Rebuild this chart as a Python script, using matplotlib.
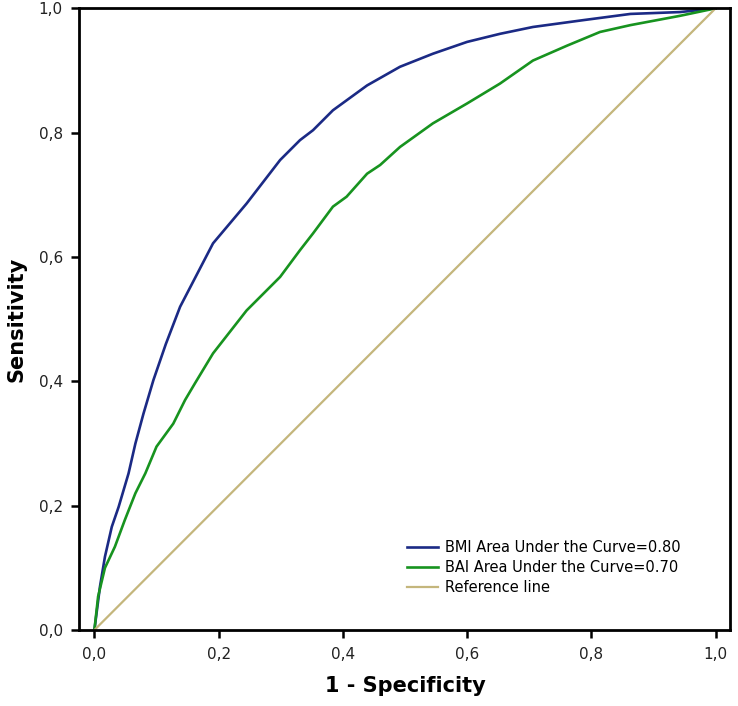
import matplotlib
matplotlib.use("Agg")
import matplotlib.pyplot as plt

# ROC points (1 - specificity, sensitivity)
bmi_fpr = [0.0, 0.009, 0.017, 0.028, 0.039, 0.055, 0.066, 0.079, 0.095, 0.115, 0.138,
           0.191, 0.245, 0.299, 0.331, 0.352, 0.384, 0.439, 0.492, 0.545, 0.600,
           0.653, 0.706, 0.787, 0.863, 0.943, 1.0]
bmi_tpr = [0.0, 0.070, 0.118, 0.166, 0.198, 0.252, 0.300, 0.348, 0.402, 0.460, 0.520,
           0.622, 0.686, 0.756, 0.788, 0.804, 0.836, 0.876, 0.906, 0.927, 0.946,
           0.959, 0.970, 0.981, 0.991, 0.994, 1.0]

bai_fpr = [0.0, 0.006, 0.017, 0.033, 0.049, 0.066, 0.082, 0.100, 0.127, 0.146, 0.162,
           0.191, 0.245, 0.299, 0.331, 0.352, 0.384, 0.406, 0.439, 0.460, 0.492,
           0.545, 0.600, 0.653, 0.706, 0.761, 0.814, 0.863, 0.943, 1.0]
bai_tpr = [0.0, 0.054, 0.100, 0.134, 0.177, 0.220, 0.252, 0.295, 0.332, 0.370, 0.397,
           0.445, 0.514, 0.568, 0.611, 0.638, 0.681, 0.697, 0.734, 0.748, 0.777,
           0.815, 0.847, 0.879, 0.916, 0.940, 0.962, 0.973, 0.988, 1.0]

ref_x = [0.0, 1.0]
ref_y = [0.0, 1.0]

labels = ("BMI Area Under the Curve=0.80", "BAI Area Under the Curve=0.70", "Reference line")
colors = ("#1b2a85", "#17931f", "#c4b67c")
ticks = [0.0, 0.2, 0.4, 0.6, 0.8, 1.0]
tick_labels = ["0,0", "0,2", "0,4", "0,6", "0,8", "1,0"]

fig = plt.figure(figsize=(7.38, 7.06), dpi=100)
ax = fig.add_axes([0.1077, 0.1076, 0.8821, 0.8806])

ax.plot(bmi_fpr, bmi_tpr, color=colors[0], lw=1.9, label=labels[0])
ax.plot(bai_fpr, bai_tpr, color=colors[1], lw=1.9, label=labels[1])
ax.plot(ref_x, ref_y, color=colors[2], lw=1.6, label=labels[2])

ax.set_xlim(-0.024, 1.024)
ax.set_ylim(0, 1.0)
ax.set_xticks(ticks, tick_labels, fontsize=11)
ax.set_yticks(ticks, tick_labels, fontsize=11)
ax.tick_params(length=6, width=1.8, direction="out", pad=6, labelcolor="#222222")
for s in ax.spines.values():
    s.set_linewidth(2)

ax.set_xlabel("1 - Specificity", fontsize=15, fontweight="bold", labelpad=10)
ax.set_ylabel("Sensitivity", fontsize=15, fontweight="bold", labelpad=9)

ax.legend(loc="upper left", bbox_to_anchor=(400 / 738, 1 - 533 / 706),
          bbox_transform=fig.transFigure, frameon=False, fontsize=10.5,
          handlelength=2.1, handletextpad=0.5, labelspacing=0.35, borderpad=0)

fig.savefig("out.png", dpi=100)
